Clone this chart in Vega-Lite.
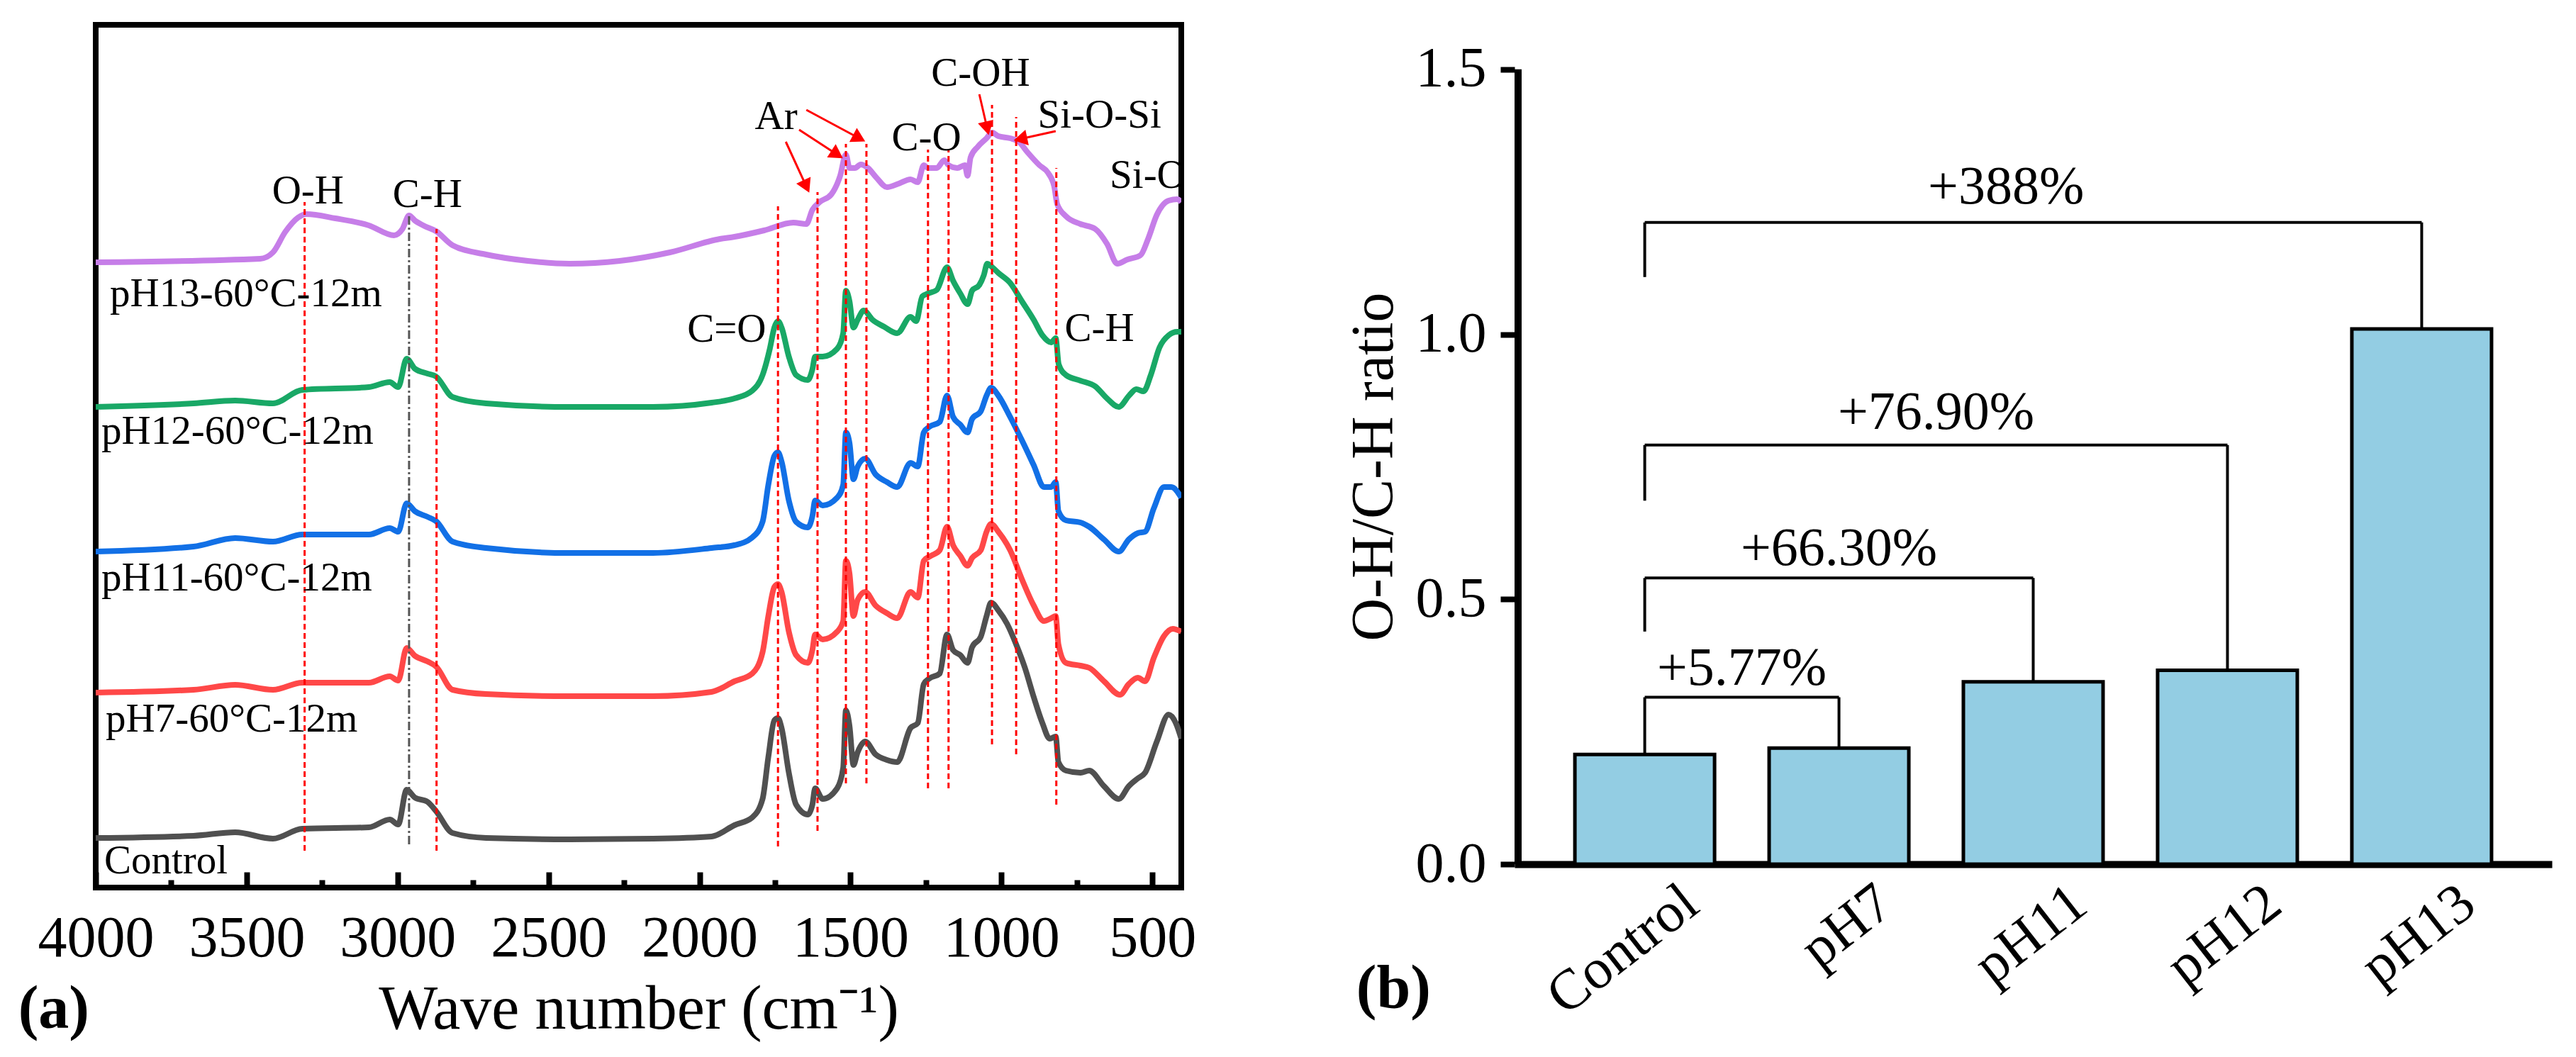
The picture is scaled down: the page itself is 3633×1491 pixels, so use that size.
{
  "$schema": "https://vega.github.io/schema/vega-lite/v6.json",
  "background": "white",
  "padding": {"left": 21, "top": 31, "right": 5, "bottom": 5},
  "spacing": 205,
  "config": {
    "font": "Liberation Serif",
    "view": {"stroke": null},
    "axis": {"labelFont": "Liberation Serif", "titleFont": "Liberation Serif", "labelColor": "black", "titleColor": "black", "titleFontWeight": "normal", "grid": false, "domainColor": "black", "tickColor": "black", "labelLimit": 1000},
    "text": {"font": "Liberation Serif", "color": "black"}
  },
  "datasets": {
    "spectra": [
      {"s":"Control","w":4000,"a":70},{"s":"Control","w":3676,"a":73},{"s":"Control","w":3538,"a":78},{"s":"Control","w":3413,"a":69},{"s":"Control","w":3316,"a":83},{"s":"Control","w":3095,"a":85},{"s":"Control","w":3026,"a":96},{"s":"Control","w":2998,"a":89},{"s":"Control","w":2970,"a":138},{"s":"Control","w":2943,"a":127},{"s":"Control","w":2901,"a":121},{"s":"Control","w":2873,"a":108},{"s":"Control","w":2818,"a":77},{"s":"Control","w":2707,"a":70},{"s":"Control","w":2431,"a":68},{"s":"Control","w":2154,"a":69},{"s":"Control","w":1960,"a":72},{"s":"Control","w":1884,"a":88},{"s":"Control","w":1825,"a":99},{"s":"Control","w":1791,"a":125},{"s":"Control","w":1772,"a":184},{"s":"Control","w":1752,"a":236},{"s":"Control","w":1740,"a":239},{"s":"Control","w":1728,"a":225},{"s":"Control","w":1704,"a":162},{"s":"Control","w":1680,"a":117},{"s":"Control","w":1641,"a":103},{"s":"Control","w":1626,"a":117},{"s":"Control","w":1617,"a":140},{"s":"Control","w":1592,"a":125},{"s":"Control","w":1544,"a":140},{"s":"Control","w":1524,"a":169},{"s":"Control","w":1515,"a":250},{"s":"Control","w":1503,"a":228},{"s":"Control","w":1490,"a":173},{"s":"Control","w":1476,"a":191},{"s":"Control","w":1451,"a":206},{"s":"Control","w":1417,"a":188},{"s":"Control","w":1379,"a":180},{"s":"Control","w":1345,"a":177},{"s":"Control","w":1301,"a":225},{"s":"Control","w":1277,"a":232},{"s":"Control","w":1257,"a":287},{"s":"Control","w":1238,"a":295},{"s":"Control","w":1204,"a":302},{"s":"Control","w":1180,"a":357},{"s":"Control","w":1160,"a":335},{"s":"Control","w":1136,"a":328},{"s":"Control","w":1112,"a":317},{"s":"Control","w":1097,"a":339},{"s":"Control","w":1068,"a":354},{"s":"Control","w":1049,"a":383},{"s":"Control","w":1034,"a":402},{"s":"Control","w":1010,"a":391},{"s":"Control","w":981,"a":372},{"s":"Control","w":951,"a":343},{"s":"Control","w":922,"a":310},{"s":"Control","w":893,"a":269},{"s":"Control","w":864,"a":232},{"s":"Control","w":840,"a":210},{"s":"Control","w":820,"a":213},{"s":"Control","w":811,"a":177},{"s":"Control","w":786,"a":165},{"s":"Control","w":738,"a":162},{"s":"Control","w":709,"a":165},{"s":"Control","w":660,"a":143},{"s":"Control","w":611,"a":125},{"s":"Control","w":578,"a":143},{"s":"Control","w":548,"a":154},{"s":"Control","w":524,"a":162},{"s":"Control","w":485,"a":206},{"s":"Control","w":446,"a":244},{"s":"Control","w":422,"a":232},{"s":"Control","w":404,"a":210},
      {"s":"pH7","w":4000,"a":275},{"s":"pH7","w":3676,"a":279},{"s":"pH7","w":3538,"a":286},{"s":"pH7","w":3413,"a":279},{"s":"pH7","w":3316,"a":289},{"s":"pH7","w":3095,"a":289},{"s":"pH7","w":3026,"a":298},{"s":"pH7","w":2998,"a":292},{"s":"pH7","w":2970,"a":338},{"s":"pH7","w":2943,"a":327},{"s":"pH7","w":2901,"a":319},{"s":"pH7","w":2873,"a":312},{"s":"pH7","w":2818,"a":279},{"s":"pH7","w":2707,"a":273},{"s":"pH7","w":2431,"a":270},{"s":"pH7","w":2154,"a":270},{"s":"pH7","w":1960,"a":276},{"s":"pH7","w":1884,"a":291},{"s":"pH7","w":1825,"a":302},{"s":"pH7","w":1791,"a":332},{"s":"pH7","w":1772,"a":383},{"s":"pH7","w":1752,"a":424},{"s":"pH7","w":1740,"a":428},{"s":"pH7","w":1728,"a":417},{"s":"pH7","w":1704,"a":361},{"s":"pH7","w":1680,"a":328},{"s":"pH7","w":1641,"a":317},{"s":"pH7","w":1626,"a":335},{"s":"pH7","w":1617,"a":357},{"s":"pH7","w":1592,"a":350},{"s":"pH7","w":1544,"a":361},{"s":"pH7","w":1524,"a":376},{"s":"pH7","w":1515,"a":461},{"s":"pH7","w":1503,"a":443},{"s":"pH7","w":1490,"a":383},{"s":"pH7","w":1476,"a":406},{"s":"pH7","w":1451,"a":417},{"s":"pH7","w":1417,"a":398},{"s":"pH7","w":1379,"a":387},{"s":"pH7","w":1345,"a":380},{"s":"pH7","w":1301,"a":417},{"s":"pH7","w":1277,"a":409},{"s":"pH7","w":1257,"a":461},{"s":"pH7","w":1233,"a":468},{"s":"pH7","w":1204,"a":476},{"s":"pH7","w":1180,"a":509},{"s":"pH7","w":1160,"a":483},{"s":"pH7","w":1136,"a":468},{"s":"pH7","w":1112,"a":454},{"s":"pH7","w":1097,"a":465},{"s":"pH7","w":1068,"a":476},{"s":"pH7","w":1049,"a":502},{"s":"pH7","w":1034,"a":513},{"s":"pH7","w":1010,"a":502},{"s":"pH7","w":971,"a":476},{"s":"pH7","w":932,"a":435},{"s":"pH7","w":893,"a":398},{"s":"pH7","w":859,"a":376},{"s":"pH7","w":835,"a":380},{"s":"pH7","w":820,"a":383},{"s":"pH7","w":811,"a":343},{"s":"pH7","w":786,"a":317},{"s":"pH7","w":738,"a":313},{"s":"pH7","w":709,"a":310},{"s":"pH7","w":660,"a":291},{"s":"pH7","w":607,"a":272},{"s":"pH7","w":578,"a":287},{"s":"pH7","w":548,"a":296},{"s":"pH7","w":524,"a":291},{"s":"pH7","w":495,"a":324},{"s":"pH7","w":461,"a":355},{"s":"pH7","w":432,"a":365},{"s":"pH7","w":404,"a":361},
      {"s":"pH11","w":4000,"a":474},{"s":"pH11","w":3676,"a":481},{"s":"pH11","w":3538,"a":493},{"s":"pH11","w":3413,"a":488},{"s":"pH11","w":3316,"a":498},{"s":"pH11","w":3095,"a":498},{"s":"pH11","w":3026,"a":507},{"s":"pH11","w":2998,"a":502},{"s":"pH11","w":2970,"a":542},{"s":"pH11","w":2943,"a":531},{"s":"pH11","w":2901,"a":523},{"s":"pH11","w":2873,"a":517},{"s":"pH11","w":2818,"a":488},{"s":"pH11","w":2707,"a":479},{"s":"pH11","w":2431,"a":472},{"s":"pH11","w":2154,"a":472},{"s":"pH11","w":1960,"a":479},{"s":"pH11","w":1884,"a":483},{"s":"pH11","w":1825,"a":494},{"s":"pH11","w":1791,"a":516},{"s":"pH11","w":1772,"a":568},{"s":"pH11","w":1752,"a":609},{"s":"pH11","w":1740,"a":614},{"s":"pH11","w":1728,"a":601},{"s":"pH11","w":1704,"a":546},{"s":"pH11","w":1680,"a":516},{"s":"pH11","w":1641,"a":508},{"s":"pH11","w":1626,"a":524},{"s":"pH11","w":1617,"a":546},{"s":"pH11","w":1592,"a":539},{"s":"pH11","w":1544,"a":550},{"s":"pH11","w":1524,"a":568},{"s":"pH11","w":1515,"a":642},{"s":"pH11","w":1503,"a":627},{"s":"pH11","w":1490,"a":576},{"s":"pH11","w":1476,"a":594},{"s":"pH11","w":1451,"a":605},{"s":"pH11","w":1417,"a":583},{"s":"pH11","w":1379,"a":572},{"s":"pH11","w":1345,"a":565},{"s":"pH11","w":1301,"a":599},{"s":"pH11","w":1277,"a":594},{"s":"pH11","w":1257,"a":642},{"s":"pH11","w":1238,"a":650},{"s":"pH11","w":1204,"a":657},{"s":"pH11","w":1180,"a":694},{"s":"pH11","w":1160,"a":664},{"s":"pH11","w":1136,"a":653},{"s":"pH11","w":1112,"a":642},{"s":"pH11","w":1097,"a":661},{"s":"pH11","w":1068,"a":672},{"s":"pH11","w":1049,"a":694},{"s":"pH11","w":1034,"a":705},{"s":"pH11","w":1010,"a":694},{"s":"pH11","w":971,"a":664},{"s":"pH11","w":932,"a":631},{"s":"pH11","w":893,"a":596},{"s":"pH11","w":859,"a":565},{"s":"pH11","w":835,"a":565},{"s":"pH11","w":820,"a":572},{"s":"pH11","w":811,"a":531},{"s":"pH11","w":786,"a":518},{"s":"pH11","w":738,"a":515},{"s":"pH11","w":709,"a":509},{"s":"pH11","w":660,"a":491},{"s":"pH11","w":611,"a":474},{"s":"pH11","w":578,"a":491},{"s":"pH11","w":548,"a":500},{"s":"pH11","w":524,"a":502},{"s":"pH11","w":495,"a":535},{"s":"pH11","w":461,"a":565},{"s":"pH11","w":437,"a":565},{"s":"pH11","w":404,"a":550},
      {"s":"pH12","w":4000,"a":678},{"s":"pH12","w":3676,"a":683},{"s":"pH12","w":3538,"a":687},{"s":"pH12","w":3413,"a":683},{"s":"pH12","w":3316,"a":702},{"s":"pH12","w":3095,"a":706},{"s":"pH12","w":3026,"a":713},{"s":"pH12","w":2998,"a":706},{"s":"pH12","w":2970,"a":746},{"s":"pH12","w":2943,"a":732},{"s":"pH12","w":2901,"a":725},{"s":"pH12","w":2873,"a":721},{"s":"pH12","w":2818,"a":692},{"s":"pH12","w":2707,"a":683},{"s":"pH12","w":2431,"a":678},{"s":"pH12","w":2154,"a":678},{"s":"pH12","w":1960,"a":684},{"s":"pH12","w":1884,"a":690},{"s":"pH12","w":1825,"a":701},{"s":"pH12","w":1791,"a":723},{"s":"pH12","w":1767,"a":760},{"s":"pH12","w":1752,"a":790},{"s":"pH12","w":1740,"a":799},{"s":"pH12","w":1728,"a":790},{"s":"pH12","w":1704,"a":749},{"s":"pH12","w":1680,"a":723},{"s":"pH12","w":1641,"a":716},{"s":"pH12","w":1626,"a":731},{"s":"pH12","w":1617,"a":749},{"s":"pH12","w":1592,"a":749},{"s":"pH12","w":1544,"a":760},{"s":"pH12","w":1524,"a":782},{"s":"pH12","w":1515,"a":842},{"s":"pH12","w":1503,"a":827},{"s":"pH12","w":1490,"a":790},{"s":"pH12","w":1476,"a":801},{"s":"pH12","w":1456,"a":814},{"s":"pH12","w":1427,"a":801},{"s":"pH12","w":1388,"a":791},{"s":"pH12","w":1345,"a":782},{"s":"pH12","w":1301,"a":805},{"s":"pH12","w":1282,"a":799},{"s":"pH12","w":1262,"a":834},{"s":"pH12","w":1243,"a":838},{"s":"pH12","w":1214,"a":843},{"s":"pH12","w":1180,"a":875},{"s":"pH12","w":1160,"a":856},{"s":"pH12","w":1136,"a":838},{"s":"pH12","w":1112,"a":823},{"s":"pH12","w":1097,"a":842},{"s":"pH12","w":1073,"a":850},{"s":"pH12","w":1058,"a":864},{"s":"pH12","w":1047,"a":880},{"s":"pH12","w":1030,"a":875},{"s":"pH12","w":1010,"a":867},{"s":"pH12","w":971,"a":853},{"s":"pH12","w":932,"a":827},{"s":"pH12","w":893,"a":801},{"s":"pH12","w":864,"a":779},{"s":"pH12","w":835,"a":769},{"s":"pH12","w":820,"a":775},{"s":"pH12","w":810,"a":738},{"s":"pH12","w":786,"a":723},{"s":"pH12","w":738,"a":715},{"s":"pH12","w":689,"a":707},{"s":"pH12","w":650,"a":690},{"s":"pH12","w":611,"a":678},{"s":"pH12","w":577,"a":694},{"s":"pH12","w":553,"a":703},{"s":"pH12","w":529,"a":700},{"s":"pH12","w":505,"a":723},{"s":"pH12","w":476,"a":762},{"s":"pH12","w":446,"a":779},{"s":"pH12","w":417,"a":784},{"s":"pH12","w":404,"a":784},
      {"s":"pH13","w":4000,"a":882},{"s":"pH13","w":3455,"a":887},{"s":"pH13","w":3413,"a":896},{"s":"pH13","w":3372,"a":925},{"s":"pH13","w":3330,"a":945},{"s":"pH13","w":3302,"a":950},{"s":"pH13","w":3206,"a":944},{"s":"pH13","w":3095,"a":934},{"s":"pH13","w":3012,"a":920},{"s":"pH13","w":2984,"a":929},{"s":"pH13","w":2962,"a":948},{"s":"pH13","w":2943,"a":941},{"s":"pH13","w":2915,"a":934},{"s":"pH13","w":2873,"a":926},{"s":"pH13","w":2818,"a":906},{"s":"pH13","w":2707,"a":893},{"s":"pH13","w":2569,"a":884},{"s":"pH13","w":2430,"a":880},{"s":"pH13","w":2264,"a":884},{"s":"pH13","w":2098,"a":896},{"s":"pH13","w":1932,"a":915},{"s":"pH13","w":1884,"a":918},{"s":"pH13","w":1786,"a":927},{"s":"pH13","w":1689,"a":938},{"s":"pH13","w":1646,"a":936},{"s":"pH13","w":1626,"a":956},{"s":"pH13","w":1602,"a":967},{"s":"pH13","w":1563,"a":978},{"s":"pH13","w":1534,"a":1004},{"s":"pH13","w":1515,"a":1034},{"s":"pH13","w":1503,"a":1015},{"s":"pH13","w":1485,"a":1015},{"s":"pH13","w":1466,"a":1020},{"s":"pH13","w":1442,"a":1015},{"s":"pH13","w":1413,"a":1001},{"s":"pH13","w":1379,"a":988},{"s":"pH13","w":1340,"a":993},{"s":"pH13","w":1301,"a":999},{"s":"pH13","w":1277,"a":995},{"s":"pH13","w":1257,"a":1019},{"s":"pH13","w":1243,"a":1015},{"s":"pH13","w":1214,"a":1015},{"s":"pH13","w":1189,"a":1026},{"s":"pH13","w":1175,"a":1019},{"s":"pH13","w":1146,"a":1015},{"s":"pH13","w":1121,"a":1019},{"s":"pH13","w":1112,"a":1004},{"s":"pH13","w":1102,"a":1030},{"s":"pH13","w":1078,"a":1045},{"s":"pH13","w":1049,"a":1057},{"s":"pH13","w":1031,"a":1065},{"s":"pH13","w":1010,"a":1060},{"s":"pH13","w":971,"a":1057},{"s":"pH13","w":942,"a":1052},{"s":"pH13","w":913,"a":1037},{"s":"pH13","w":874,"a":1019},{"s":"pH13","w":845,"a":1008},{"s":"pH13","w":825,"a":989},{"s":"pH13","w":815,"a":964},{"s":"pH13","w":786,"a":947},{"s":"pH13","w":738,"a":936},{"s":"pH13","w":689,"a":929},{"s":"pH13","w":650,"a":908},{"s":"pH13","w":616,"a":880},{"s":"pH13","w":582,"a":886},{"s":"pH13","w":539,"a":892},{"s":"pH13","w":514,"a":915},{"s":"pH13","w":485,"a":949},{"s":"pH13","w":446,"a":969},{"s":"pH13","w":417,"a":971},{"s":"pH13","w":404,"a":967}
    ],
    "peaks": [
      {"w":3308,"a":52,"a2":967},{"w":2871,"a":52,"a2":929},{"w":1740,"a":58,"a2":961},{"w":1609,"a":80,"a2":981},{"w":1515,"a":147,"a2":1049},{"w":1447,"a":147,"a2":1049},{"w":1243,"a":140,"a2":1041},{"w":1175,"a":140,"a2":1041},{"w":1031,"a":202,"a2":1104},{"w":951,"a":188,"a2":1087},{"w":818,"a":117,"a2":1015}
    ],
    "chpeak": [{"w":2962,"a":61,"a2":948}],
    "arrows": [
      {"w":1714,"a":1052,"w2":1646,"a2":989,"ang":155},
      {"w":1670,"a":1069,"w2":1544,"a2":1034,"ang":123},
      {"w":1646,"a":1097,"w2":1471,"a2":1057,"ang":118},
      {"w":1073,"a":1119,"w2":1047,"a2":1071,"ang":167},
      {"w":820,"a":1067,"w2":937,"a2":1056,"ang":258}
    ],
    "groups": [
      {"t":"O-H","w":3297,"a":982},{"t":"C-H","w":2901,"a":977},{"t":"C=O","w":1910,"a":787},{"t":"Ar","w":1746,"a":1087},{"t":"C-O","w":1248,"a":1057},{"t":"C-OH","w":1069,"a":1148},{"t":"Si-O-Si","w":675,"a":1089},{"t":"C-H","w":675,"a":788}
    ],
    "samples": [
      {"t":"pH13-60°C-12m","w":3953,"a":837},{"t":"pH12-60°C-12m","w":3981,"a":643},{"t":"pH11-60°C-12m","w":3981,"a":436},{"t":"pH7-60°C-12m","w":3967,"a":237},{"t":"Control","w":3972,"a":37},{"t":"Si-O","w":641,"a":1004}
    ],
    "tagA": [{"t":"(a)","w":4139,"a":-172}],
    "bars": [
      {"g":"Control","pos":0,"r":0.207},{"g":"pH7","pos":1,"r":0.219},{"g":"pH11","pos":2,"r":0.344},{"g":"pH12","pos":3,"r":0.366},{"g":"pH13","pos":4,"r":1.01}
    ],
    "yline": [{"pos":-0.652,"r":0,"r2":1.5}],
    "brackets": [
      {"x":0,"x2":1,"y":0.315,"y2":0.315},{"x":0,"x2":0,"y":0.315,"y2":0.207},{"x":1,"x2":1,"y":0.315,"y2":0.219},
      {"x":0,"x2":2,"y":0.54,"y2":0.54},{"x":0,"x2":0,"y":0.54,"y2":0.439},{"x":2,"x2":2,"y":0.54,"y2":0.344},
      {"x":0,"x2":3,"y":0.791,"y2":0.791},{"x":0,"x2":0,"y":0.791,"y2":0.686},{"x":3,"x2":3,"y":0.791,"y2":0.366},
      {"x":0,"x2":4,"y":1.211,"y2":1.211},{"x":0,"x2":0,"y":1.211,"y2":1.108},{"x":4,"x2":4,"y":1.211,"y2":1.01}
    ],
    "gains": [
      {"t":"+5.77%","x":0.5,"y":0.369},{"t":"+66.30%","x":1,"y":0.595},{"t":"+76.90%","x":1.5,"y":0.852},{"t":"+388%","x":1.86,"y":1.277}
    ],
    "tagB": [{"t":"(b)","x":-1.293,"y":-0.235}]
  },
  "hconcat": [
    {
      "width": 1531,
      "height": 1217,
      "view": {"stroke": "black", "strokeWidth": 8},
      "resolve": {"axis": {"x": "independent"}},
      "layer": [
        {
          "data": {"name": "spectra"},
          "mark": {"type": "line", "strokeWidth": 8, "clip": true, "interpolate": "monotone"},
          "encoding": {
            "x": {"field": "w", "type": "quantitative",
              "scale": {"domain": [404, 4000], "reverse": true, "nice": false, "zero": false},
              "axis": {"orient": "bottom", "values": [4000, 3500, 3000, 2500, 2000, 1500, 1000, 500], "format": "d", "domain": false, "tickSize": -22, "tickWidth": 8, "labelFontSize": 82, "labelPadding": 53, "labelFlush": false, "labelOverlap": false, "title": "Wave number (cm⁻¹)", "titleFontSize": 88, "titlePadding": 16}},
            "y": {"field": "a", "type": "quantitative",
              "scale": {"domain": [0, 1217], "nice": false, "zero": false},
              "axis": {"labels": false, "ticks": false, "domain": false, "title": "Absorbance (a.u.)", "titleFontSize": 90, "titlePadding": 45}},
            "order": {"field": "w", "sort": "descending"},
            "color": {"field": "s", "type": "nominal", "legend": null,
              "scale": {"domain": ["Control", "pH7", "pH11", "pH12", "pH13"], "range": ["#505050", "#ff4848", "#1270e6", "#19a866", "#c67ee8"]}}
          }
        },
        {
          "data": {"name": "peaks"},
          "mark": {"type": "rule", "color": "#ff0000", "strokeWidth": 3, "strokeDash": [8, 5]},
          "encoding": {
            "x": {"field": "w", "type": "quantitative",
              "axis": {"orient": "bottom", "values": [3750, 3250, 2750, 2250, 1750, 1250, 750], "labels": false, "domain": false, "tickSize": -11, "tickWidth": 8, "title": null}},
            "y": {"field": "a", "type": "quantitative", "axis": null},
            "y2": {"field": "a2"}
          }
        },
        {
          "data": {"name": "chpeak"},
          "mark": {"type": "rule", "color": "#555555", "strokeWidth": 3, "strokeDash": [12, 4, 3, 4]},
          "encoding": {
            "x": {"field": "w", "type": "quantitative", "axis": null},
            "y": {"field": "a", "type": "quantitative", "axis": null},
            "y2": {"field": "a2"}
          }
        },
        {
          "data": {"name": "arrows"},
          "mark": {"type": "rule", "color": "#ff0000", "strokeWidth": 3},
          "encoding": {
            "x": {"field": "w", "type": "quantitative", "axis": null},
            "x2": {"field": "w2"},
            "y": {"field": "a", "type": "quantitative", "axis": null},
            "y2": {"field": "a2"}
          }
        },
        {
          "data": {"name": "arrows"},
          "mark": {"type": "point", "shape": "triangle-up", "filled": true, "color": "#ff0000", "size": 500, "opacity": 1},
          "encoding": {
            "x": {"field": "w2", "type": "quantitative", "axis": null},
            "y": {"field": "a2", "type": "quantitative", "axis": null},
            "angle": {"field": "ang", "type": "quantitative", "scale": null}
          }
        },
        {
          "data": {"name": "groups"},
          "mark": {"type": "text", "fontSize": 57, "align": "center", "baseline": "middle"},
          "encoding": {
            "x": {"field": "w", "type": "quantitative", "axis": null},
            "y": {"field": "a", "type": "quantitative", "axis": null},
            "text": {"field": "t"}
          }
        },
        {
          "data": {"name": "samples"},
          "mark": {"type": "text", "fontSize": 57, "align": "left", "baseline": "middle", "clip": true},
          "encoding": {
            "x": {"field": "w", "type": "quantitative", "axis": null},
            "y": {"field": "a", "type": "quantitative", "axis": null},
            "text": {"field": "t"}
          }
        },
        {
          "data": {"name": "tagA"},
          "mark": {"type": "text", "fontSize": 86, "fontWeight": "bold", "align": "center", "baseline": "middle"},
          "encoding": {
            "x": {"field": "w", "type": "quantitative", "axis": null},
            "y": {"field": "a", "type": "quantitative", "axis": null},
            "text": {"field": "t"}
          }
        }
      ]
    },
    {
      "width": 1463,
      "height": 1184,
      "view": {"stroke": null, "fill": "white"},
      "layer": [
        {
          "data": {"name": "bars"},
          "mark": {"type": "bar", "width": 197, "fill": "#93cde3", "stroke": "black", "strokeWidth": 5},
          "encoding": {
            "x": {"field": "pos", "type": "quantitative",
              "scale": {"domain": [-0.652, 4.652], "nice": false, "zero": false},
              "axis": {"values": [0, 1, 2, 3, 4], "labelExpr": "['Control','pH7','pH11','pH12','pH13'][datum.value]", "labelAngle": -38, "labelAlign": "right", "labelBaseline": "alphabetic", "labelFontSize": 80, "labelOffset": 80, "labelPadding": 64, "ticks": false, "domainWidth": 10, "labelFlush": false, "labelOverlap": false, "title": null}},
            "y": {"field": "r", "type": "quantitative",
              "scale": {"domain": [0, 1.584], "nice": false},
              "axis": {"values": [0, 0.5, 1, 1.5], "format": ".1f", "domain": false, "tickSize": 20, "tickWidth": 8, "labelFontSize": 80, "labelPadding": 20, "title": "O-H/C-H ratio", "titleFontSize": 84, "titlePadding": 15, "titleY": 623}}
          }
        },
        {
          "data": {"name": "yline"},
          "mark": {"type": "rule", "color": "black", "strokeWidth": 10},
          "encoding": {
            "x": {"field": "pos", "type": "quantitative"},
            "y": {"field": "r", "type": "quantitative"},
            "y2": {"field": "r2"}
          }
        },
        {
          "data": {"name": "brackets"},
          "mark": {"type": "rule", "color": "black", "strokeWidth": 4},
          "encoding": {
            "x": {"field": "x", "type": "quantitative"},
            "x2": {"field": "x2"},
            "y": {"field": "y", "type": "quantitative"},
            "y2": {"field": "y2"}
          }
        },
        {
          "data": {"name": "gains"},
          "mark": {"type": "text", "fontSize": 76, "align": "center", "baseline": "middle"},
          "encoding": {
            "x": {"field": "x", "type": "quantitative"},
            "y": {"field": "y", "type": "quantitative"},
            "text": {"field": "t"}
          }
        },
        {
          "data": {"name": "tagB"},
          "mark": {"type": "text", "fontSize": 86, "fontWeight": "bold", "align": "center", "baseline": "middle"},
          "encoding": {
            "x": {"field": "x", "type": "quantitative"},
            "y": {"field": "y", "type": "quantitative"},
            "text": {"field": "t"}
          }
        }
      ]
    }
  ]
}
